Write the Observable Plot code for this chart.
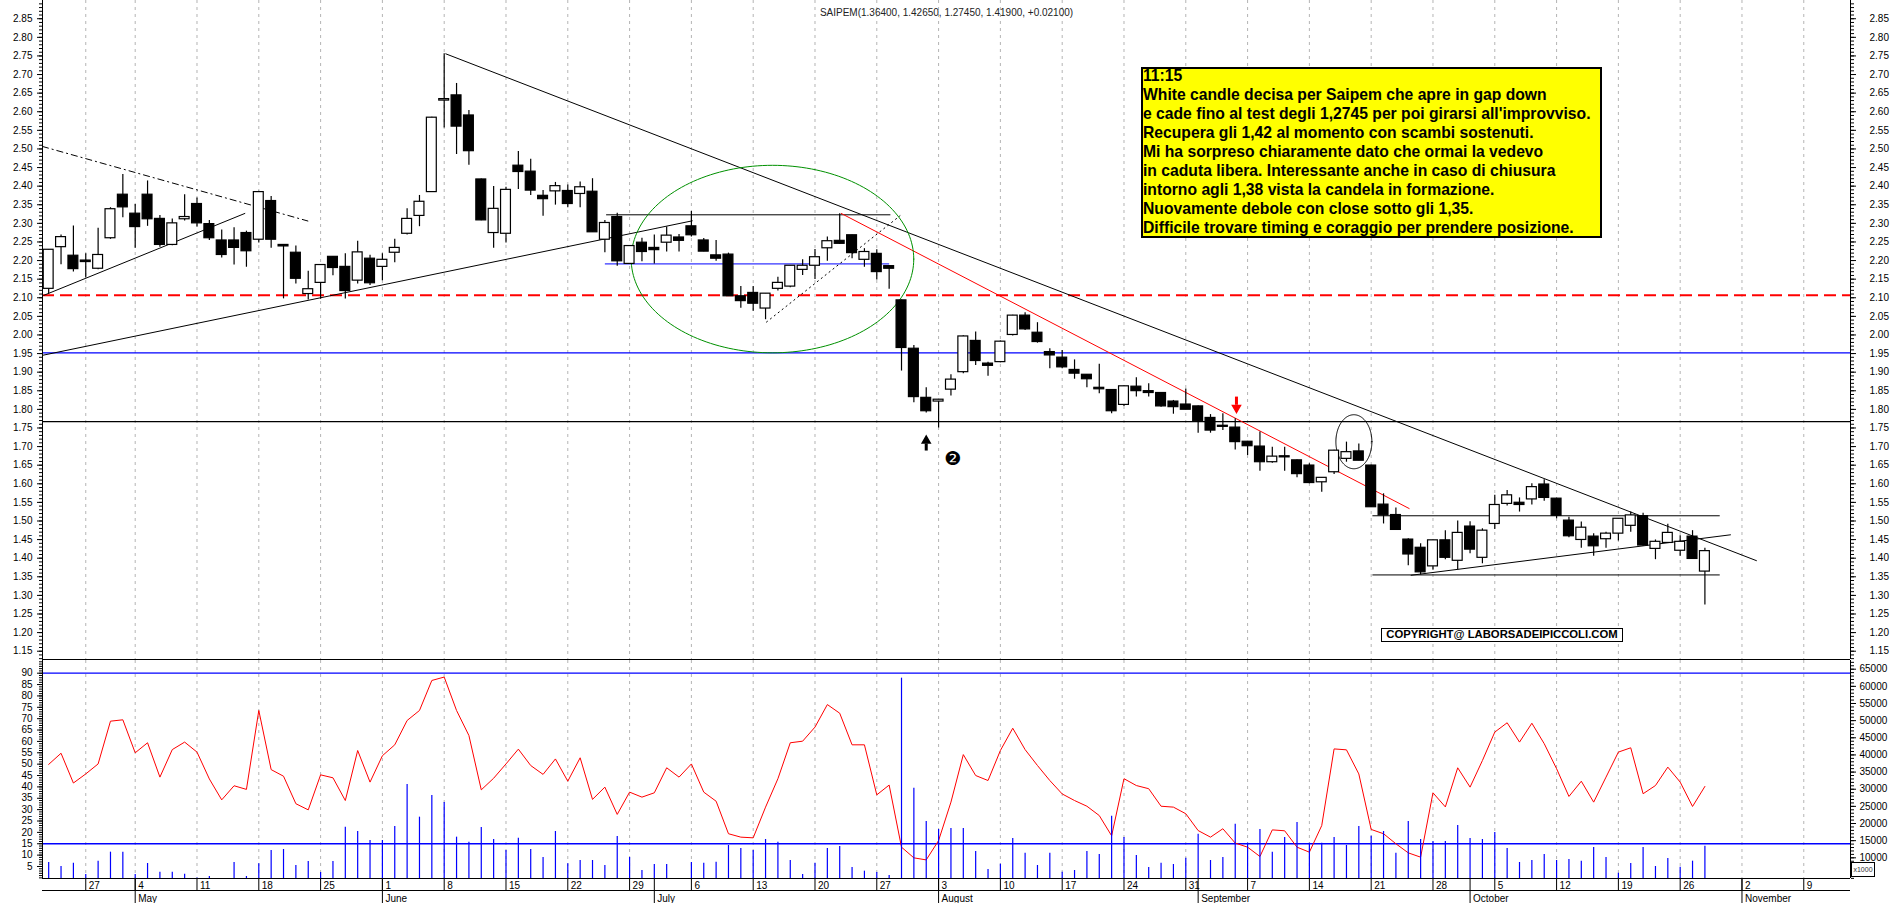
<!DOCTYPE html>
<html><head><meta charset="utf-8">
<script src="https://cdn.jsdelivr.net/npm/d3@7"></script>
<script src="https://cdn.jsdelivr.net/npm/@observablehq/plot@0.6"></script>
<style>
body{margin:0;background:#fff;font-family:"Liberation Sans",Arial,sans-serif;}
#chart{position:relative;width:1890px;height:903px;overflow:hidden;background:#fff;}
.layer{position:absolute;left:0;}
.layer svg{display:block;}
.note{position:absolute;left:1141px;top:67px;width:461px;height:171px;box-sizing:border-box;border:2.5px solid #000;background:#ffff00;font:bold 15.7px "Liberation Sans",Arial,sans-serif;line-height:19px;white-space:pre;color:#000;}
.note div{margin-top:-3px;}
.copy{position:absolute;left:1381px;top:628px;width:242px;height:14px;box-sizing:border-box;border:1.5px solid #000;background:#fff;font:bold 11.3px "Liberation Sans",Arial,sans-serif;line-height:11px;text-align:center;white-space:nowrap;color:#000;}
.unit{position:absolute;left:1851px;top:862px;width:24px;height:15px;box-sizing:border-box;border:1px solid #000;background:#fff;font:7px "Liberation Sans",Arial,sans-serif;line-height:13px;text-align:center;color:#333;}
</style></head><body><div id="chart"></div>
<script>
// ---------- data ----------
const opens = [2.124,2.236,2.213,2.200,2.178,2.260,2.377,2.326,2.377,2.312,
2.242,2.311,2.352,2.298,2.254,2.254,2.274,2.256,2.360,2.242,
2.221,2.110,2.140,2.210,2.183,2.146,2.205,2.183,2.221,2.272,
2.320,2.384,2.630,2.644,2.590,2.418,2.274,2.272,2.455,2.439,
2.374,2.386,2.387,2.379,2.385,2.256,2.317,2.191,2.248,2.234,
2.248,2.262,2.292,2.254,2.214,2.216,2.104,2.113,2.071,2.124,
2.130,2.175,2.186,2.233,2.253,2.268,2.202,2.218,2.185,2.093,
1.963,1.831,1.821,1.853,1.900,1.984,1.923,1.927,2.000,2.052,
2.006,1.954,1.939,1.906,1.893,1.858,1.852,1.812,1.861,1.849,
1.844,1.821,1.813,1.808,1.777,1.756,1.751,1.713,1.700,1.658,
1.674,1.663,1.649,1.604,1.631,1.667,1.687,1.649,1.544,1.516,
1.450,1.428,1.378,1.448,1.393,1.485,1.401,1.492,1.546,1.549,
1.558,1.598,1.560,1.501,1.449,1.458,1.451,1.466,1.487,1.513,
1.425,1.441,1.420,1.458,1.364];
const highs = [2.230,2.269,2.293,2.218,2.287,2.342,2.431,2.351,2.414,2.321,
2.312,2.377,2.368,2.308,2.282,2.288,2.279,2.386,2.372,2.243,
2.239,2.171,2.189,2.211,2.218,2.252,2.214,2.218,2.257,2.339,
2.375,2.585,2.756,2.676,2.603,2.419,2.399,2.397,2.493,2.472,
2.388,2.410,2.403,2.411,2.420,2.308,2.327,2.240,2.260,2.269,
2.290,2.270,2.332,2.259,2.254,2.220,2.130,2.130,2.111,2.155,
2.186,2.202,2.230,2.263,2.326,2.268,2.232,2.229,2.186,2.094,
1.972,1.858,1.827,1.893,1.998,2.008,1.927,1.984,2.053,2.060,
2.033,1.963,1.958,1.933,1.894,1.921,1.853,1.863,1.885,1.869,
1.845,1.824,1.855,1.809,1.786,1.788,1.775,1.714,1.739,1.698,
1.698,1.664,1.654,1.617,1.690,1.712,1.707,1.650,1.573,1.535,
1.452,1.439,1.448,1.474,1.500,1.498,1.479,1.569,1.582,1.562,
1.600,1.611,1.561,1.510,1.497,1.466,1.470,1.506,1.524,1.521,
1.449,1.491,1.460,1.474,1.4265];
const lows = [2.111,2.189,2.169,2.153,2.175,2.257,2.315,2.233,2.292,2.236,
2.240,2.306,2.290,2.254,2.207,2.188,2.182,2.247,2.233,2.097,
2.137,2.094,2.096,2.159,2.097,2.137,2.133,2.146,2.194,2.269,
2.291,2.383,2.556,2.485,2.456,2.307,2.233,2.247,2.391,2.375,
2.319,2.349,2.342,2.342,2.276,2.221,2.185,2.190,2.197,2.191,
2.223,2.223,2.263,2.224,2.198,2.104,2.072,2.064,2.041,2.118,
2.127,2.160,2.149,2.198,2.243,2.205,2.182,2.148,2.123,1.903,
1.818,1.790,1.750,1.836,1.896,1.918,1.889,1.925,1.997,2.012,
1.978,1.909,1.909,1.881,1.858,1.842,1.788,1.808,1.833,1.833,
1.806,1.787,1.799,1.736,1.736,1.743,1.691,1.676,1.634,1.655,
1.634,1.616,1.600,1.577,1.625,1.658,1.662,1.537,1.492,1.476,
1.380,1.355,1.368,1.396,1.369,1.412,1.385,1.477,1.540,1.524,
1.543,1.553,1.506,1.455,1.427,1.405,1.427,1.446,1.470,1.432,
1.396,1.440,1.405,1.398,1.2745];
const closes = [2.229,2.263,2.177,2.196,2.215,2.338,2.343,2.290,2.311,2.242,
2.300,2.317,2.300,2.260,2.215,2.234,2.225,2.384,2.256,2.238,
2.151,2.123,2.188,2.180,2.118,2.222,2.139,2.202,2.234,2.312,
2.358,2.584,2.634,2.560,2.494,2.308,2.339,2.390,2.438,2.388,
2.365,2.400,2.352,2.397,2.276,2.301,2.198,2.239,2.223,2.228,
2.267,2.253,2.268,2.224,2.205,2.104,2.091,2.084,2.111,2.140,
2.186,2.186,2.209,2.252,2.245,2.220,2.223,2.169,2.178,1.965,
1.833,1.795,1.826,1.880,1.996,1.930,1.917,1.982,2.052,2.015,
1.981,1.945,1.913,1.896,1.881,1.854,1.795,1.862,1.849,1.844,
1.808,1.806,1.799,1.768,1.743,1.753,1.712,1.701,1.658,1.673,
1.671,1.626,1.602,1.616,1.689,1.685,1.662,1.537,1.515,1.476,
1.410,1.362,1.448,1.401,1.468,1.423,1.474,1.543,1.569,1.543,
1.591,1.562,1.514,1.459,1.482,1.432,1.466,1.506,1.515,1.434,
1.444,1.468,1.444,1.398,1.419];
const oscillator = [49.9,54.8,41.7,45.7,50.1,68.9,69.5,55.0,59.4,44.3,
56.4,59.7,55.3,43.5,34.3,40.5,38.9,73.6,47.6,44.7,
32.6,29.9,45.3,44.0,34.0,56.0,42.1,53.7,58.5,69.2,
73.6,86.8,88.3,73.6,62.6,38.7,43.8,50.1,56.6,49.4,
45.5,52.3,42.5,52.8,34.5,39.9,27.9,37.7,35.5,37.4,
48.4,44.3,50.1,37.7,33.7,19.4,17.9,17.6,31.1,43.6,
59.4,60.1,66.3,76.2,72.4,58.5,58.5,36.5,40.8,13.5,
8.8,7.9,16.4,33.3,54.2,45.0,42.8,56.0,65.8,56.4,
49.4,42.8,36.9,34.0,31.5,27.4,18.5,43.6,40.6,39.2,
31.5,31.1,28.2,20.8,17.9,21.6,15.3,13.5,9.4,21.1,
20.7,13.5,11.3,23.0,56.7,56.3,45.7,21.3,19.4,15.0,
11.0,9.1,37.4,31.2,48.4,39.9,51.6,64.1,68.2,59.7,
68.0,59.0,48.0,35.8,42.5,33.3,44.3,55.3,57.2,37.0,
40.6,48.7,42.1,31.4,40.2];
const volumes = [8634,7467,8440,5135,9023,11647,11647,5135,8342,5815,
5815,5232,4100,4551,3950,8634,4551,8245,12133,12425,
7759,8926,5718,8926,18937,17673,15049,15049,19131,31379,
21853,28171,26130,16021,14563,18840,15341,12133,15729,12425,
10092,17673,8245,9217,9217,7759,16215,10092,6301,8051,
8051,4000,8634,8440,8731,13591,12717,12133,15341,14563,
9217,5135,8440,12717,13300,7176,6106,5718,4843,62385,
30309,20589,18257,18549,18549,11841,6593,8148,15632,11355,
7759,11355,5815,6301,11841,10967,22145,15924,10675,7176,
8440,8051,9898,16895,9217,10092,19812,14271,18257,11647,
15924,20298,14271,14271,15924,13591,19131,16313,17673,11355,
20589,15341,14758,14758,19423,15632,15341,17382,12717,8634,
9217,10967,9217,9508,9023,13008,10092,5524,8342,13008,
7467,9800,7273,9023,13398];

const firstDay = "2020-04-22", lastAxisDay = "2020-11-13";
const holidays = ["2020-05-01"];
const monthNames = ["January","February","March","April","May","June","July","August","September","October","November","December"];
const priceLevels = [2.107, 1.952, 1.767];           // red dashed, blue, black
const oscLevels = [90, 15];
const titleText = "SAIPEM(1.36400, 1.42650, 1.27450, 1.41900, +0.02100)";
const noteLines = ["11:15",
"White candle decisa per Saipem che apre in gap down",
"e cade fino al test degli 1,2745 per poi girarsi all'improvviso.",
"Recupera gli 1,42 al momento con scambi sostenuti.",
"Mi ha sorpreso chiaramente dato che ormai la vedevo",
"in caduta libera. Interessante anche in caso di chiusura",
"intorno agli 1,38 vista la candela in formazione.",
"Nuovamente debole con close sotto gli 1,35.",
"Difficile trovare timing e coraggio per prendere posizione."];
const copyrightText = "COPYRIGHT@ LABORSADEIPICCOLI.COM";
const unitText = "x1000";
// drawn annotations (trading-day index, price)
const trendLines = [
 {x1:-0.54,y1:2.507,x2:21.0,y2:2.306,stroke:"black",dash:"7,3,2,3"},
 {x1:-0.43,y1:2.106,x2:15.9,y2:2.327,stroke:"black",dash:null},
 {x1:-0.54,y1:1.945,x2:52.1,y2:2.307,stroke:"black",dash:null},
 {x1:32.1,y1:2.756,x2:138.2,y2:1.393,stroke:"black",dash:null},
 {x1:45.1,y1:2.323,x2:68.1,y2:2.323,stroke:"black",dash:null},
 {x1:45.0,y1:2.191,x2:68.0,y2:2.191,stroke:"blue",dash:null},
 {x1:58.05,y1:2.034,x2:68.9,y2:2.321,stroke:"black",dash:"2,3"},
 {x1:64.1,y1:2.327,x2:110.1,y2:1.533,stroke:"red",dash:null},
 {x1:107.1,y1:1.514,x2:135.2,y2:1.514,stroke:"black",dash:null},
 {x1:107.1,y1:1.355,x2:135.2,y2:1.355,stroke:"black",dash:null},
 {x1:110.2,y1:1.354,x2:136.1,y2:1.463,stroke:"black",dash:null}
];
const ellipses = [
 {cx:58.56, cy:2.204, rx:11.43, ry:0.252, stroke:"#009000"},
 {cx:105.6, cy:1.713, rx:1.456, ry:0.0726, stroke:"black"}
];
const arrows = [
 {x:96.1, shaftTop:1.833, shaftBottom:1.811, head:1.804, dir:"down", color:"#ff0000"},
 {x:71.0, shaftTop:1.707, shaftBottom:1.688, head:1.716, dir:"up", color:"black"}
];
const markerTwo = {x:73.15, y:1.667, text:"❷"};

// ---------- derived ----------
const fmtDay = d3.utcFormat("%Y-%m-%d");
const parse = d3.utcParse("%Y-%m-%d");
const days = d3.utcDays(parse(firstDay), d3.utcDay.offset(parse(lastAxisDay), 1))
  .filter(d => d.getUTCDay() % 6 !== 0 && !holidays.includes(fmtDay(d)));
const weeks = days.map((d,i)=>({d,i})).filter(o => o.d.getUTCDay() === 1).map(o => ({i:o.i, label:String(o.d.getUTCDate())}));
const months = days.map((d,i)=>({d,i})).filter((o,k,a) => k > 0 && o.d.getUTCMonth() !== a[k-1].d.getUTCMonth()).map(o => ({i:o.i, label:monthNames[o.d.getUTCMonth()]}));
const weekIdx = weeks.map(w => w.i);
const candles = closes.map((c,i)=>({i, open:opens[i], high:highs[i], low:lows[i], close:c}));
const osc = oscillator.map((v,i)=>({i, v}));
const vol = volumes.map((v,i)=>({i, v}));

const W = 1890, ML = 42, MR = 40;
const xDomain = [-0.5, 145.78];
const priceDomain = [1.1277, 2.899];
const oscDomain = [-0.28, 95.58];
const volDomain = [3968, 67537];
const font = {fontFamily:"'Liberation Sans', Arial, sans-serif", fontSize:"10px", color:"#000", background:"transparent", overflow:"visible"};
const gridOpts = {stroke:"#b4b4b4", strokeDasharray:"3,4"};

function ellipsePts(e){ return d3.range(0, 361, 2).map(a => ({x: e.cx + e.rx*Math.cos(a*Math.PI/180), y: e.cy + e.ry*Math.sin(a*Math.PI/180)})); }

const majorP = d3.range(23, 58).map(k => +(k*0.05).toFixed(2));
const minorP = d3.range(113, 290).map(k => +(k*0.01).toFixed(2));
const f2 = d3.format(".2f");
const blank = () => "";

const main = Plot.plot({
  width: W, height: 660, marginLeft: ML, marginRight: MR, marginTop: 0, marginBottom: 1,
  x: {domain: xDomain, axis: null},
  y: {domain: priceDomain, axis: null},
  style: font,
  marks: [
    Plot.ruleX(weekIdx, gridOpts),
    Plot.ruleY([priceLevels[0]], {stroke:"#ff0000", strokeWidth:2, strokeDasharray:"12,6"}),
    Plot.ruleY([priceLevels[1]], {stroke:"#0000ff", strokeWidth:1.2}),
    Plot.ruleY([priceLevels[2]], {stroke:"black", strokeWidth:1.2}),
    ...trendLines.map(t => Plot.link([t], {x1:"x1", y1:"y1", x2:"x2", y2:"y2", stroke: t.stroke, strokeWidth: 1, strokeDasharray: t.dash || undefined})),
    ...ellipses.map(e => Plot.line(ellipsePts(e), {x:"x", y:"y", stroke: e.stroke, strokeWidth: 1, curve:"linear-closed"})),
    Plot.ruleX(candles, {x:"i", y1:"low", y2:"high", stroke:"black", strokeWidth:1.2}),
    Plot.rect(candles.filter(d => d.close >= d.open), {x1: d => d.i - 0.4, x2: d => d.i + 0.4, y1:"open", y2:"close", fill:"white", stroke:"black", strokeWidth:1.2}),
    Plot.rect(candles.filter(d => d.close < d.open), {x1: d => d.i - 0.4, x2: d => d.i + 0.4, y1:"open", y2:"close", fill:"black", stroke:"black", strokeWidth:1.2}),
    ...arrows.map(a => Plot.ruleX([a], {x:"x", y1:"shaftTop", y2:"shaftBottom", stroke:a.color, strokeWidth:3})),
    ...arrows.map(a => Plot.dot([a], {x:"x", y:"head", symbol:"triangle2", r:3.8, fill:a.color, stroke:a.color, rotate: a.dir === "down" ? 180 : 0})),
    Plot.text([markerTwo], {x:"x", y:"y", text:"text", fontSize:19, fontFamily:"DejaVu Sans", fill:"black"}),
    Plot.text([titleText], {frameAnchor:"top", dy:8, fontSize:10, fill:"#222"}),
    Plot.ruleX(xDomain, {stroke:"black"}),
    Plot.ruleY([priceDomain[0]], {stroke:"black"}),
    Plot.axisY({anchor:"left", ticks: minorP, tickSize:3, tickFormat: blank, label: null}),
    Plot.axisY({anchor:"left", ticks: majorP, tickSize:5, tickPadding:5, tickFormat: f2, label: null}),
    Plot.axisY({anchor:"right", ticks: minorP, tickSize:3, tickFormat: blank, label: null}),
    Plot.axisY({anchor:"right", ticks: majorP, tickSize:5, tickPadding:14, tickFormat: f2, label: null})
  ]
});

const lower = Plot.plot({
  width: W, height: 219, marginLeft: ML, marginRight: MR, marginTop: 0, marginBottom: 1,
  x: {domain: xDomain, axis: null},
  y: {domain: oscDomain, axis: null},
  style: {...font, background:"white"},
  marks: [
    Plot.ruleX(weekIdx, gridOpts),
    Plot.ruleY(oscLevels, {stroke:"#0000ff", strokeWidth:1.3}),
    Plot.line(osc, {x:"i", y:"v", stroke:"#ff0000", strokeWidth:1}),
    Plot.ruleX(xDomain, {stroke:"black"}),
    Plot.ruleY([oscDomain[0]], {stroke:"black"}),
    Plot.axisY({anchor:"left", ticks: d3.range(0, 96, 1), tickSize:3, tickFormat: blank, label: null}),
    Plot.axisY({anchor:"left", ticks: d3.range(5, 91, 5), tickSize:5, tickPadding:5, tickFormat: d => String(d), label: null})
  ]
});

const volPlot = Plot.plot({
  width: W, height: 219, marginLeft: ML, marginRight: MR, marginTop: 0, marginBottom: 1,
  x: {domain: xDomain, axis: null},
  y: {domain: volDomain, axis: null},
  style: font,
  marks: [
    Plot.ruleX(vol, {x:"i", y1: () => volDomain[0], y2:"v", stroke:"#0000ff", strokeWidth:1.2}),
    Plot.axisY({anchor:"right", ticks: d3.range(4000, 67001, 1000), tickSize:3, tickFormat: blank, label: null}),
    Plot.axisY({anchor:"right", ticks: d3.range(10000, 65001, 5000), tickSize:5, tickPadding:4, tickFormat: d => String(d), label: null})
  ]
});

const dateAxis = Plot.plot({
  width: W, height: 24, marginLeft: ML, marginRight: MR, marginTop: 0, marginBottom: 0,
  x: {domain: xDomain, axis: null},
  y: {domain: [0, 24], axis: null},
  style: {...font, background:"white"},
  marks: [
    Plot.ruleY([13], {stroke:"black"}),
    Plot.ruleX(weekIdx, {y1: 13, y2: 24, stroke:"black"}),
    Plot.ruleX(months, {x:"i", y1: 0, y2: 24, stroke:"black"}),
    Plot.text(weeks, {x:"i", y:18, text:"label", textAnchor:"start", dx:3, fontSize:10, fill:"#000"}),
    Plot.text(months, {x:"i", y:5, text:"label", textAnchor:"start", dx:3, fontSize:10, fill:"#000"})
  ]
});

const chart = document.getElementById("chart");
function layer(el, top){ const d = document.createElement("div"); d.className = "layer"; d.style.top = top + "px"; d.appendChild(el); chart.appendChild(d); }
layer(main, 0);
layer(lower, 660);
layer(volPlot, 660);
layer(dateAxis, 879);

const note = document.createElement("div");
note.className = "note";
const inner = document.createElement("div");
inner.textContent = noteLines.join("\n");
note.appendChild(inner);
chart.appendChild(note);

const copy = document.createElement("div");
copy.className = "copy";
copy.textContent = copyrightText;
chart.appendChild(copy);

const unit = document.createElement("div");
unit.className = "unit";
unit.textContent = unitText;
chart.appendChild(unit);
</script>
</body></html>
